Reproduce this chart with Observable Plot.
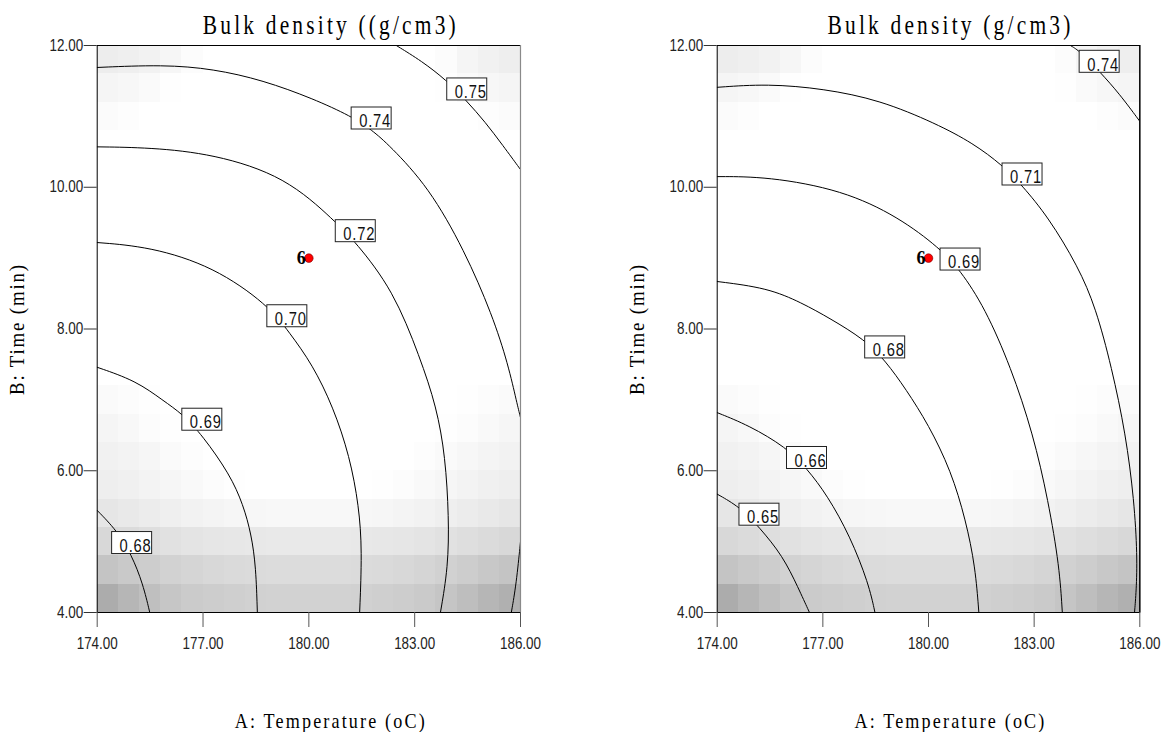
<!DOCTYPE html>
<html>
<head>
<meta charset="utf-8">
<script src="https://cdn.jsdelivr.net/npm/d3@7"></script>
<script src="https://cdn.jsdelivr.net/npm/@observablehq/plot@0.6"></script>
<style>
html,body{margin:0;padding:0;background:#fff;}
#wrap{position:relative;width:1167px;height:732px;overflow:hidden;background:#fff;}
.panel{position:absolute;top:0;}
</style>
</head>
<body>
<div id="wrap"><div id="p0" class="panel" style="left:0px"></div><div id="p1" class="panel" style="left:583px"></div></div>
<script>
// ---------------- data ----------------
const xTicks = [174, 177, 180, 183, 186];
const yTicks = [4, 6, 8, 10, 12];
const titles = ["Bulk density ((g/cm3)", "Bulk density (g/cm3)"];
const xTitle = "A: Temperature (oC)";
const yTitle = "B: Time (min)";
const designPoints = [{T: 180, t: 9, label: "6"}];

// contour lines, left panel  (A: temperature, B: time)
const leftLines = [
  {level: "0.75", pts: [[182.48,12],[183.2,11.78],[183.9,11.51],[184.47,11.22],[185.0,10.92],[185.5,10.59],[186,10.25]]},
  {level: "0.74", pts: [[174,11.69],[175.87,11.73],[177.29,11.67],[178.7,11.51],[180.12,11.25],[181.21,11.0],[181.78,10.81],[182.29,10.59],[183.4,10.0],[184.41,9.11],[185.2,8.2],[185.65,7.5],[185.9,6.95],[186,6.75]]},
  {level: "0.74", pts: [[186,5.0],[185.88,4.4],[185.74,4.0]]},
  {level: "0.72", pts: [[174,10.57],[175.5,10.56],[177.3,10.47],[179.35,10.15],[180.76,9.51],[181.32,9.23],[182.39,8.55],[183.15,7.6],[183.62,6.9],[183.87,6.2],[183.97,5.34],[183.95,4.64],[183.73,4.0]]},
  {level: "0.70", pts: [[174,9.22],[175.5,9.16],[177.3,8.88],[178.84,8.34],[179.45,7.95],[180.1,7.5],[180.69,6.9],[181.16,6.2],[181.42,5.5],[181.51,4.87],[181.44,4.0]]},
  {level: "0.69", pts: [[174,7.46],[175.1,7.27],[175.87,6.99],[176.42,6.8],[176.98,6.5],[177.76,5.95],[178.14,5.52],[178.37,5.1],[178.5,4.64],[178.54,4.0]]},
  {level: "0.68", pts: [[174,5.44],[174.55,5.16],[174.97,4.82],[175.3,4.4],[175.49,4.0]]}
];
const leftLabels = [
  {level: "0.75", T: 184.49, t: 11.38},
  {level: "0.74", T: 181.78, t: 10.97},
  {level: "0.72", T: 181.33, t: 9.38},
  {level: "0.70", T: 179.39, t: 8.18},
  {level: "0.69", T: 176.98, t: 6.72},
  {level: "0.68", T: 174.99, t: 4.98}
];

// contour lines, right panel
const rightLines = [
  {level: "0.74", pts: [[184.03,12],[184.3,11.92],[184.88,11.62],[185.42,11.32],[186,10.93]]},
  {level: "0.71", pts: [[174,11.41],[175.43,11.46],[177.03,11.39],[178.62,11.23],[180.21,10.9],[181.27,10.62],[182.1,10.31],[182.65,10.03],[183.4,9.58],[184.25,8.88],[184.75,8.3],[185.2,7.46],[185.6,6.52],[185.84,5.58],[185.93,4.8],[185.9,4.3],[185.85,4.0]]},
  {level: "0.69", pts: [[174,10.15],[175.43,10.15],[177.56,9.96],[179.15,9.58],[180.32,9.14],[180.9,8.83],[181.6,8.3],[182.34,7.46],[182.97,6.52],[183.4,5.58],[183.72,4.64],[183.8,4.0]]},
  {level: "0.68", pts: [[174,8.67],[175.43,8.58],[176.4,8.37],[177.2,8.15],[178.19,7.85],[178.78,7.55],[179.36,7.15],[180,6.65],[180.64,6.0],[181.06,5.3],[181.33,4.64],[181.43,4.0]]},
  {level: "0.66", pts: [[174,6.82],[174.9,6.64],[175.96,6.33],[176.55,6.03],[177.13,5.65],[177.77,5.08],[178.3,4.41],[178.48,4.0]]},
  {level: "0.65", pts: [[174,5.67],[174.64,5.49],[175.2,5.2],[175.86,4.8],[176.3,4.35],[176.62,4.0]]}
];
const rightLabels = [
  {level: "0.74", T: 184.86, t: 11.77},
  {level: "0.71", T: 182.67, t: 10.18},
  {level: "0.69", T: 180.91, t: 8.98},
  {level: "0.68", T: 178.77, t: 7.74},
  {level: "0.66", T: 176.55, t: 6.18},
  {level: "0.65", T: 175.2, t: 5.38}
];

// background shading (grey level 0-255), 20 cells across A, rows of 0.4 in B
const shadeRowStart = [4.0, 4.4, 4.8, 5.2, 5.6, 6.0, 6.4, 6.8, 10.8, 11.2, 11.6];
const shadeGrey = [
  [172,182,191,198,203,205,207,209,210,210,210,210,209,207,205,202,197,190,182,176],
  [196,201,205,210,213,216,218,219,220,220,220,220,219,218,216,213,209,205,200,196],
  [216,219,222,225,228,230,231,232,233,233,233,233,232,231,230,228,225,222,219,216],
  [230,233,236,239,242,244,246,247,248,248,248,248,247,246,244,242,239,236,233,230],
  [238,240,243,246,249,252,254,255,255,255,255,255,255,254,252,249,246,243,240,238],
  [241,243,246,250,253,255,255,255,255,255,255,255,255,255,255,253,250,247,244,242],
  [245,248,252,254,255,255,255,255,255,255,255,255,255,255,255,255,254,252,249,246],
  [250,252,254,255,255,255,255,255,255,255,255,255,255,255,255,255,255,254,252,250],
  [251,253,255,255,255,255,255,255,255,255,255,255,255,255,255,255,255,255,253,251],
  [245,247,250,254,255,255,255,255,255,255,255,255,255,255,255,255,254,250,247,245],
  [237,239,242,246,252,255,255,255,255,255,255,255,255,255,255,255,252,245,241,238]
];

// ---------------- build ----------------
const cellW = 0.6, cellH = 0.4, A0 = 174;
const shadeCells = [];
shadeRowStart.forEach((b0, r) => {
  shadeGrey[r].forEach((g, c) => {
    shadeCells.push({x1: A0 + c * cellW, x2: A0 + (c + 1) * cellW, y1: b0, y2: b0 + cellH, fill: `rgb(${g},${g},${g})`});
  });
});

function flatten(lines) {
  const rows = [];
  lines.forEach((l, i) => l.pts.forEach(([T, t]) => rows.push({seg: i, level: l.level, T, t})));
  return rows;
}

const SANS = "'Liberation Sans', Arial, Helvetica, sans-serif";
const SERIF = "'Liberation Serif', 'Times New Roman', Times, serif";
const NS = "http://www.w3.org/2000/svg";

const panels = [
  {el: "p0", width: 583, ml: 96.7, mr: 63, title: titles[0], lines: leftLines, labels: leftLabels, edge: "#8a8a8a", titleW: 256},
  {el: "p1", width: 584, ml: 133.7, mr: 27.7, title: titles[1], lines: rightLines, labels: rightLabels, edge: "#000", titleW: 246}
];

panels.forEach(p => {
  const plot = Plot.plot({
    width: p.width,
    height: 732,
    marginLeft: p.ml,
    marginRight: p.mr,
    marginTop: 45,
    marginBottom: 120,
    style: {fontFamily: SANS, background: "transparent", overflow: "visible"},
    x: {domain: [174, 186]},
    y: {domain: [4, 12]},
    marks: [
      Plot.rect(shadeCells, {x1: "x1", x2: "x2", y1: "y1", y2: "y2", fill: "fill", shapeRendering: "crispEdges"}),
      Plot.line(flatten(p.lines), {x: "T", y: "t", z: "seg", curve: "basis", stroke: "#000", strokeWidth: 1, clip: true}),
      Plot.frame({stroke: "#000", strokeWidth: 1}),
      Plot.ruleX([186], {stroke: p.edge, strokeWidth: 1.2}),
      Plot.text(p.labels, {x: "T", y: "t", text: "level", dx: 3.5, dy: 3, fontSize: 18, fontFamily: SANS, fill: "#111"}),
      Plot.dot(designPoints, {x: "T", y: "t", r: 4.3, fill: "#ff0000", stroke: "#700", strokeWidth: 0.6}),
      Plot.text(designPoints, {x: "T", y: "t", text: "label", textAnchor: "end", dx: -3, dy: 0, fontSize: 18, fontWeight: "bold", fontFamily: SERIF, fill: "#000"}),
      Plot.axisX({ticks: xTicks, tickSize: 15, tickPadding: 10, tickFormat: d => d.toFixed(2), fontSize: 16, stroke: "#555", fill: "#222", label: null}),
      Plot.axisY({ticks: yTicks, tickSize: 13, tickPadding: 1, tickFormat: d => d.toFixed(2), fontSize: 16, stroke: "#333", fill: "#222", label: null}),
      Plot.text([p.title], {frameAnchor: "top", dx: 22, dy: -12, lineAnchor: "bottom", textAnchor: "middle", fontSize: 27, fontFamily: SERIF, fill: "#000"}),
      Plot.text([xTitle], {frameAnchor: "bottom", dx: 22, dy: 115, lineAnchor: "bottom", textAnchor: "middle", fontSize: 21, fontFamily: SERIF, fill: "#000"}),
      Plot.text([yTitle], {frameAnchor: "left", dx: -80, rotate: -90, lineAnchor: "middle", textAnchor: "middle", fontSize: 20, fontFamily: SERIF, fill: "#000"})
    ]
  });
  document.getElementById(p.el).appendChild(plot);

  const texts = Array.from(plot.querySelectorAll("text"));
  const levels = new Set(p.labels.map(l => l.level));
  const sxs = plot.scale("x"), sys = plot.scale("y");
  const sx = sxs.apply ? v => sxs.apply(v) : d3.scaleLinear(sxs.domain, sxs.range);
  const sy = sys.apply ? v => sys.apply(v) : d3.scaleLinear(sys.domain, sys.range);

  // label boxes behind the contour values
  const labelTexts = texts.filter(t => levels.has(t.textContent));
  if (labelTexts.length) {
    const lg = labelTexts[0].parentNode;
    const bg = document.createElementNS(NS, "g");
    p.labels.forEach(l => {
      const r = document.createElementNS(NS, "rect");
      r.setAttribute("x", sx(l.T) - 20);
      r.setAttribute("y", sy(l.t) - 11);
      r.setAttribute("width", 40);
      r.setAttribute("height", 22);
      r.setAttribute("fill", "#fff");
      r.setAttribute("stroke", "#222");
      r.setAttribute("stroke-width", 1);
      bg.appendChild(r);
    });
    lg.parentNode.insertBefore(bg, lg);
    labelTexts.forEach(t => {
      t.setAttribute("textLength", 32);
      t.setAttribute("lengthAdjust", "spacingAndGlyphs");
      t.style.letterSpacing = "1px";
    });
  }
  // condensed tick labels
  texts.filter(t => /^\d+\.00$/.test(t.textContent)).forEach(t => {
    const w = t.getComputedTextLength();
    t.setAttribute("textLength", (w * 0.84).toFixed(1));
    t.setAttribute("lengthAdjust", "spacingAndGlyphs");
  });
  const fit = (str, w, ls) => texts.filter(t => t.textContent === str).forEach(t => {
    t.style.letterSpacing = ls + "px";
    t.setAttribute("textLength", w);
    t.setAttribute("lengthAdjust", "spacingAndGlyphs");
  });
  fit(p.title, p.titleW, 4);
  fit(xTitle, 192, 2.5);
  fit(yTitle, 132, 2);
});
</script>
</body>
</html>
